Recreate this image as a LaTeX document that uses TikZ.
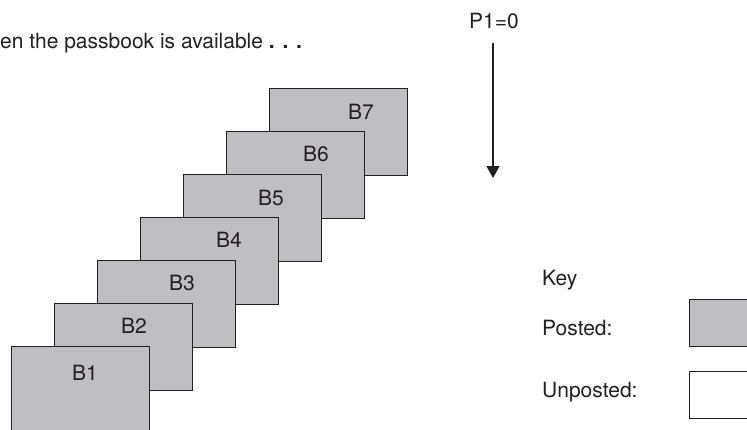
\documentclass[tikz,border=0pt]{standalone}
\usepackage{fontspec}
\setmainfont{TeX Gyre Heros}
\usetikzlibrary{arrows.meta}
\definecolor{postedgray}{RGB}{190,190,195}
\definecolor{inkline}{RGB}{35,31,32}
\begin{document}
\begin{tikzpicture}[x=1pt,y=-1pt,
  txt/.style={font=\fontsize{21}{25}\selectfont, text=inkline, inner sep=0pt},
  batchbox/.style={draw=inkline, line width=1.4pt, fill=postedgray,
    minimum width=138pt, minimum height=87pt, inner sep=0pt, anchor=north west},
  keybox/.style={draw=inkline, line width=1.4pt,
    minimum width=80pt, minimum height=47pt, inner sep=0pt, anchor=north west},
  flowarrow/.style={draw=inkline, line width=1.3pt, -{Triangle[width=13pt,length=12pt]}}]
\useasboundingbox (0,0) rectangle (747,429);
\clip (0,0) rectangle (747,429);

% heading line
\node[txt, anchor=base west] (head) at (0,48) {en the passbook is available \textbf{. . .}};

% pointer P1 moving down through the batches
\node[txt] (p1) at (494,21) {P1=0};
\coordinate (p1start) at (493,43);
\coordinate (p1end) at (493,178);
\draw[flowarrow] (p1start) -- (p1end);

% stacked batches, back (B7) to front (B1)
\node[batchbox] (b7) at (269,88) {};
\node[batchbox] (b6) at (226,131) {};
\node[batchbox] (b5) at (183,174) {};
\node[batchbox] (b4) at (140,217) {};
\node[batchbox] (b3) at (97,260) {};
\node[batchbox] (b2) at (54,303) {};
\node[batchbox] (b1) at (11,346) {};

\node[txt] (b7lab) at (361,112) {B7};
\node[txt] (b6lab) at (316,154) {B6};
\node[txt] (b5lab) at (271,198) {B5};
\node[txt] (b4lab) at (229,240) {B4};
\node[txt] (b3lab) at (182,283) {B3};
\node[txt] (b2lab) at (134,326) {B2};
\node[txt] (b1lab) at (85,373) {B1};

% key
\node[txt, anchor=base west] (key) at (542,285) {Key};
\node[txt, anchor=base west] (posted) at (542,335) {Posted:};
\node[txt, anchor=base west] (unposted) at (542,397) {Unposted:};
\node[keybox, fill=postedgray] (postedbox) at (689,299) {};
\node[keybox, fill=white] (unpostedbox) at (689,371) {};
\end{tikzpicture}
\end{document}
